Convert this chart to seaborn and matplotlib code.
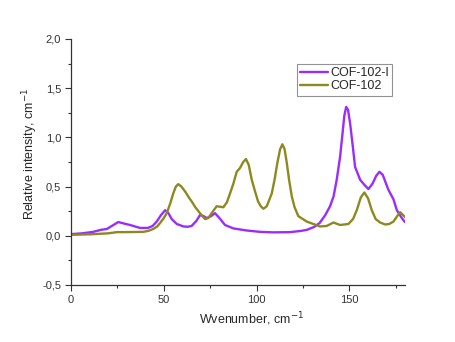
import numpy as np
import pandas as pd
import matplotlib
matplotlib.use("Agg")
import matplotlib.pyplot as plt
from matplotlib.ticker import MultipleLocator, FuncFormatter
import seaborn as sns

# COF-102-I (purple)
x_i = [0, 6, 12, 16, 19.4, 22, 25.5, 28.5, 31.8, 34.5, 37.2, 41.5, 44, 46.2, 48.5, 50.7,
       52.5, 54.3, 57, 60.6, 63, 65, 67.5, 69.5, 71.5, 73.1, 75.5, 77.6, 80, 83, 87.5,
       94.7, 101.9, 109, 118, 124, 127, 131, 134, 137, 139.6, 141.5, 143.2, 145, 146,
       147.3, 148.3, 149.3, 150.4, 151.8, 153.1, 155.8, 158, 160.3, 162.5, 164.5, 166.2,
       168, 171, 173.8, 175.6, 178.3, 180]
y_i = [0.017, 0.025, 0.04, 0.06, 0.07, 0.1, 0.14, 0.125, 0.11, 0.095, 0.08, 0.08, 0.1, 0.145, 0.21, 0.26,
       0.23, 0.17, 0.12, 0.095, 0.092, 0.10, 0.15, 0.21, 0.20, 0.18, 0.2, 0.23, 0.18, 0.11, 0.075,
       0.054, 0.04, 0.035, 0.037, 0.05, 0.06, 0.09, 0.13, 0.21, 0.30, 0.40, 0.57, 0.80, 0.98,
       1.22, 1.31, 1.28, 1.145, 0.92, 0.70, 0.57, 0.52, 0.475, 0.53, 0.61, 0.65,
       0.62, 0.47, 0.37, 0.26, 0.18, 0.14]

# COF-102 (olive)
x_g = [0, 10, 20, 24.7, 32, 39, 42, 44.4, 46.5, 48, 50, 51.6, 53.5, 55.1, 56.5, 57.8, 59.5,
       61.5, 63.5, 65, 67, 69.5, 72.2, 74, 75.8, 78.5, 80.5, 82.1, 84, 85.7, 87.5, 89.3,
       91.1, 92.8, 94.3, 95.8, 97.4, 99.2, 100.8, 102.3, 103.7, 105.5, 108.2, 109.8, 111.2,
       112.7, 113.9, 115.1, 116.3, 117.6, 119, 120.5, 122.5, 127, 134.2, 137.8, 141.4,
       145, 149.5, 152, 154, 156.2, 158.1, 160.1, 162.1, 164.2, 166.6, 169.3, 171.5,
       173.8, 175.8, 177.4, 180]
y_g = [0.01, 0.015, 0.025, 0.037, 0.038, 0.04, 0.052, 0.07, 0.095, 0.13, 0.18, 0.23, 0.33, 0.43, 0.50, 0.525, 0.50,
       0.45, 0.39, 0.35, 0.29, 0.23, 0.17, 0.18, 0.23, 0.30, 0.295, 0.29, 0.34, 0.43, 0.53, 0.65,
       0.69, 0.75, 0.78, 0.72, 0.57, 0.45, 0.35, 0.30, 0.275, 0.30, 0.43, 0.58, 0.74,
       0.88, 0.93, 0.88, 0.74, 0.56, 0.40, 0.29, 0.20, 0.145, 0.095, 0.10, 0.135,
       0.11, 0.12, 0.17, 0.26, 0.39, 0.44, 0.38, 0.26, 0.17, 0.135, 0.115, 0.12,
       0.145, 0.2, 0.24, 0.19]

series_names = ["COF-102-I", "COF-102"]
colors = ["#9a2cff", "#8c8a1e"]

df = pd.concat([
    pd.DataFrame({"x": x_i, "y": y_i, "series": series_names[0]}),
    pd.DataFrame({"x": x_g, "y": y_g, "series": series_names[1]}),
], ignore_index=True)

sns.set_style("ticks")
plt.rcParams["font.family"] = ["Liberation Sans", "DejaVu Sans"]

fig = plt.figure(figsize=(4.56, 3.42), dpi=100)
ax = fig.add_axes([71 / 456, 1 - 285 / 342, (405 - 71) / 456, (285 - 39) / 342])

sns.lineplot(data=df, x="x", y="y", hue="series", hue_order=series_names,
             palette=colors, linewidth=1.7, sort=False, estimator=None, ax=ax)

ax.set_xlim(0, 180)
ax.set_ylim(-0.5, 2.0)
ax.xaxis.set_major_locator(MultipleLocator(50))
ax.xaxis.set_minor_locator(MultipleLocator(25))
ax.yaxis.set_major_locator(MultipleLocator(0.5))
ax.yaxis.set_minor_locator(MultipleLocator(0.25))
ax.yaxis.set_major_formatter(FuncFormatter(lambda v, p: f"{v:.1f}".replace(".", ",")))
ax.tick_params(axis="both", which="major", direction="out", length=4, width=0.8,
               labelsize=8, colors="#333333", pad=3)
ax.tick_params(axis="both", which="minor", direction="out", length=2.5, width=0.8, colors="#333333")
for s in ["top", "right"]:
    ax.spines[s].set_visible(False)
for s in ["left", "bottom"]:
    ax.spines[s].set_linewidth(0.9)
    ax.spines[s].set_color("#333333")

ax.set_xlabel("Wvenumber, cm$^{-1}$", fontsize=9)
ax.set_ylabel("Relative intensity, cm$^{-1}$", fontsize=9)
ax.xaxis.set_label_coords((252 - 71) / 334, -(319 - 285) / 246, transform=ax.transAxes)
ax.yaxis.set_label_coords(-(71 - 30) / 334, (285 - 154) / 246, transform=ax.transAxes)
ax.xaxis.label.set_va("center")
ax.yaxis.label.set_va("center")

leg = ax.legend(loc="upper right", bbox_to_anchor=(0.961, 0.898), fontsize=9,
                frameon=True, fancybox=False, handlelength=2.2, borderpad=0.25,
                labelspacing=0.1, handletextpad=0.2, borderaxespad=0)
leg.get_frame().set_edgecolor("#777777")
leg.get_frame().set_linewidth(0.8)
leg.set_title(None)

fig.savefig("out.png", dpi=100)
